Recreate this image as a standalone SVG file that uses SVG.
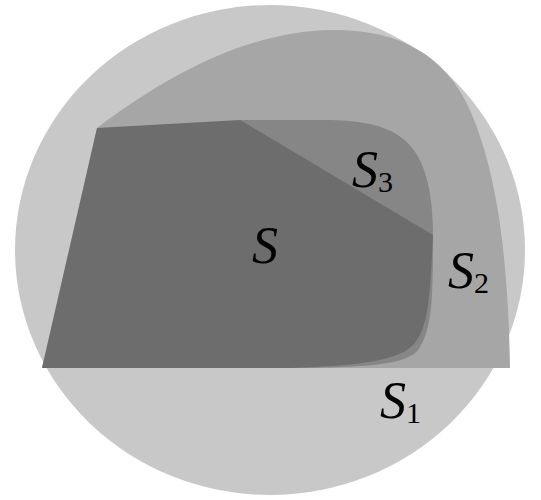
<svg xmlns="http://www.w3.org/2000/svg" width="541" height="500" viewBox="0 0 541 500">
<style>
.lbl{font-family:"Liberation Serif","DejaVu Serif",serif;font-style:italic;font-size:52px;fill:#000}
.sub{font-family:"Liberation Serif","DejaVu Serif",serif;font-style:normal;font-size:30px}
</style>
<rect width="541" height="500" fill="#fff"/>
<g id="S1">
<ellipse cx="270" cy="250" rx="255" ry="245" fill="#c8c8c8"/>
</g>
<g id="S2">
<path d="M42,368 L97,128 C180,65 260,30 335,30 C400,30 445,55 470,110 C498,175 508,260 510,368 Z" fill="#a6a6a6"/>
</g>
<g id="S3">
<path d="M240,120 L330,120 C400,122 432,140 433,235 C433,300 432,330 418,350 C405,366 360,368 270,368 L240,368 Z" fill="#868686"/>
</g>
<g id="S">
<path d="M42,368 L97,128 L240,120 L433,235 C430,300 428,330 412,346 C395,362 350,366 290,368 Z" fill="#6d6d6d"/>
</g>
<g id="labels">
<text class="lbl" x="252" y="263">S</text>
<text class="lbl" x="352" y="187">S<tspan class="sub" dy="5">3</tspan></text>
<text class="lbl" x="448" y="288">S<tspan class="sub" dy="5">2</tspan></text>
<text class="lbl" x="380" y="418">S<tspan class="sub" dy="5">1</tspan></text>
</g>
</svg>
